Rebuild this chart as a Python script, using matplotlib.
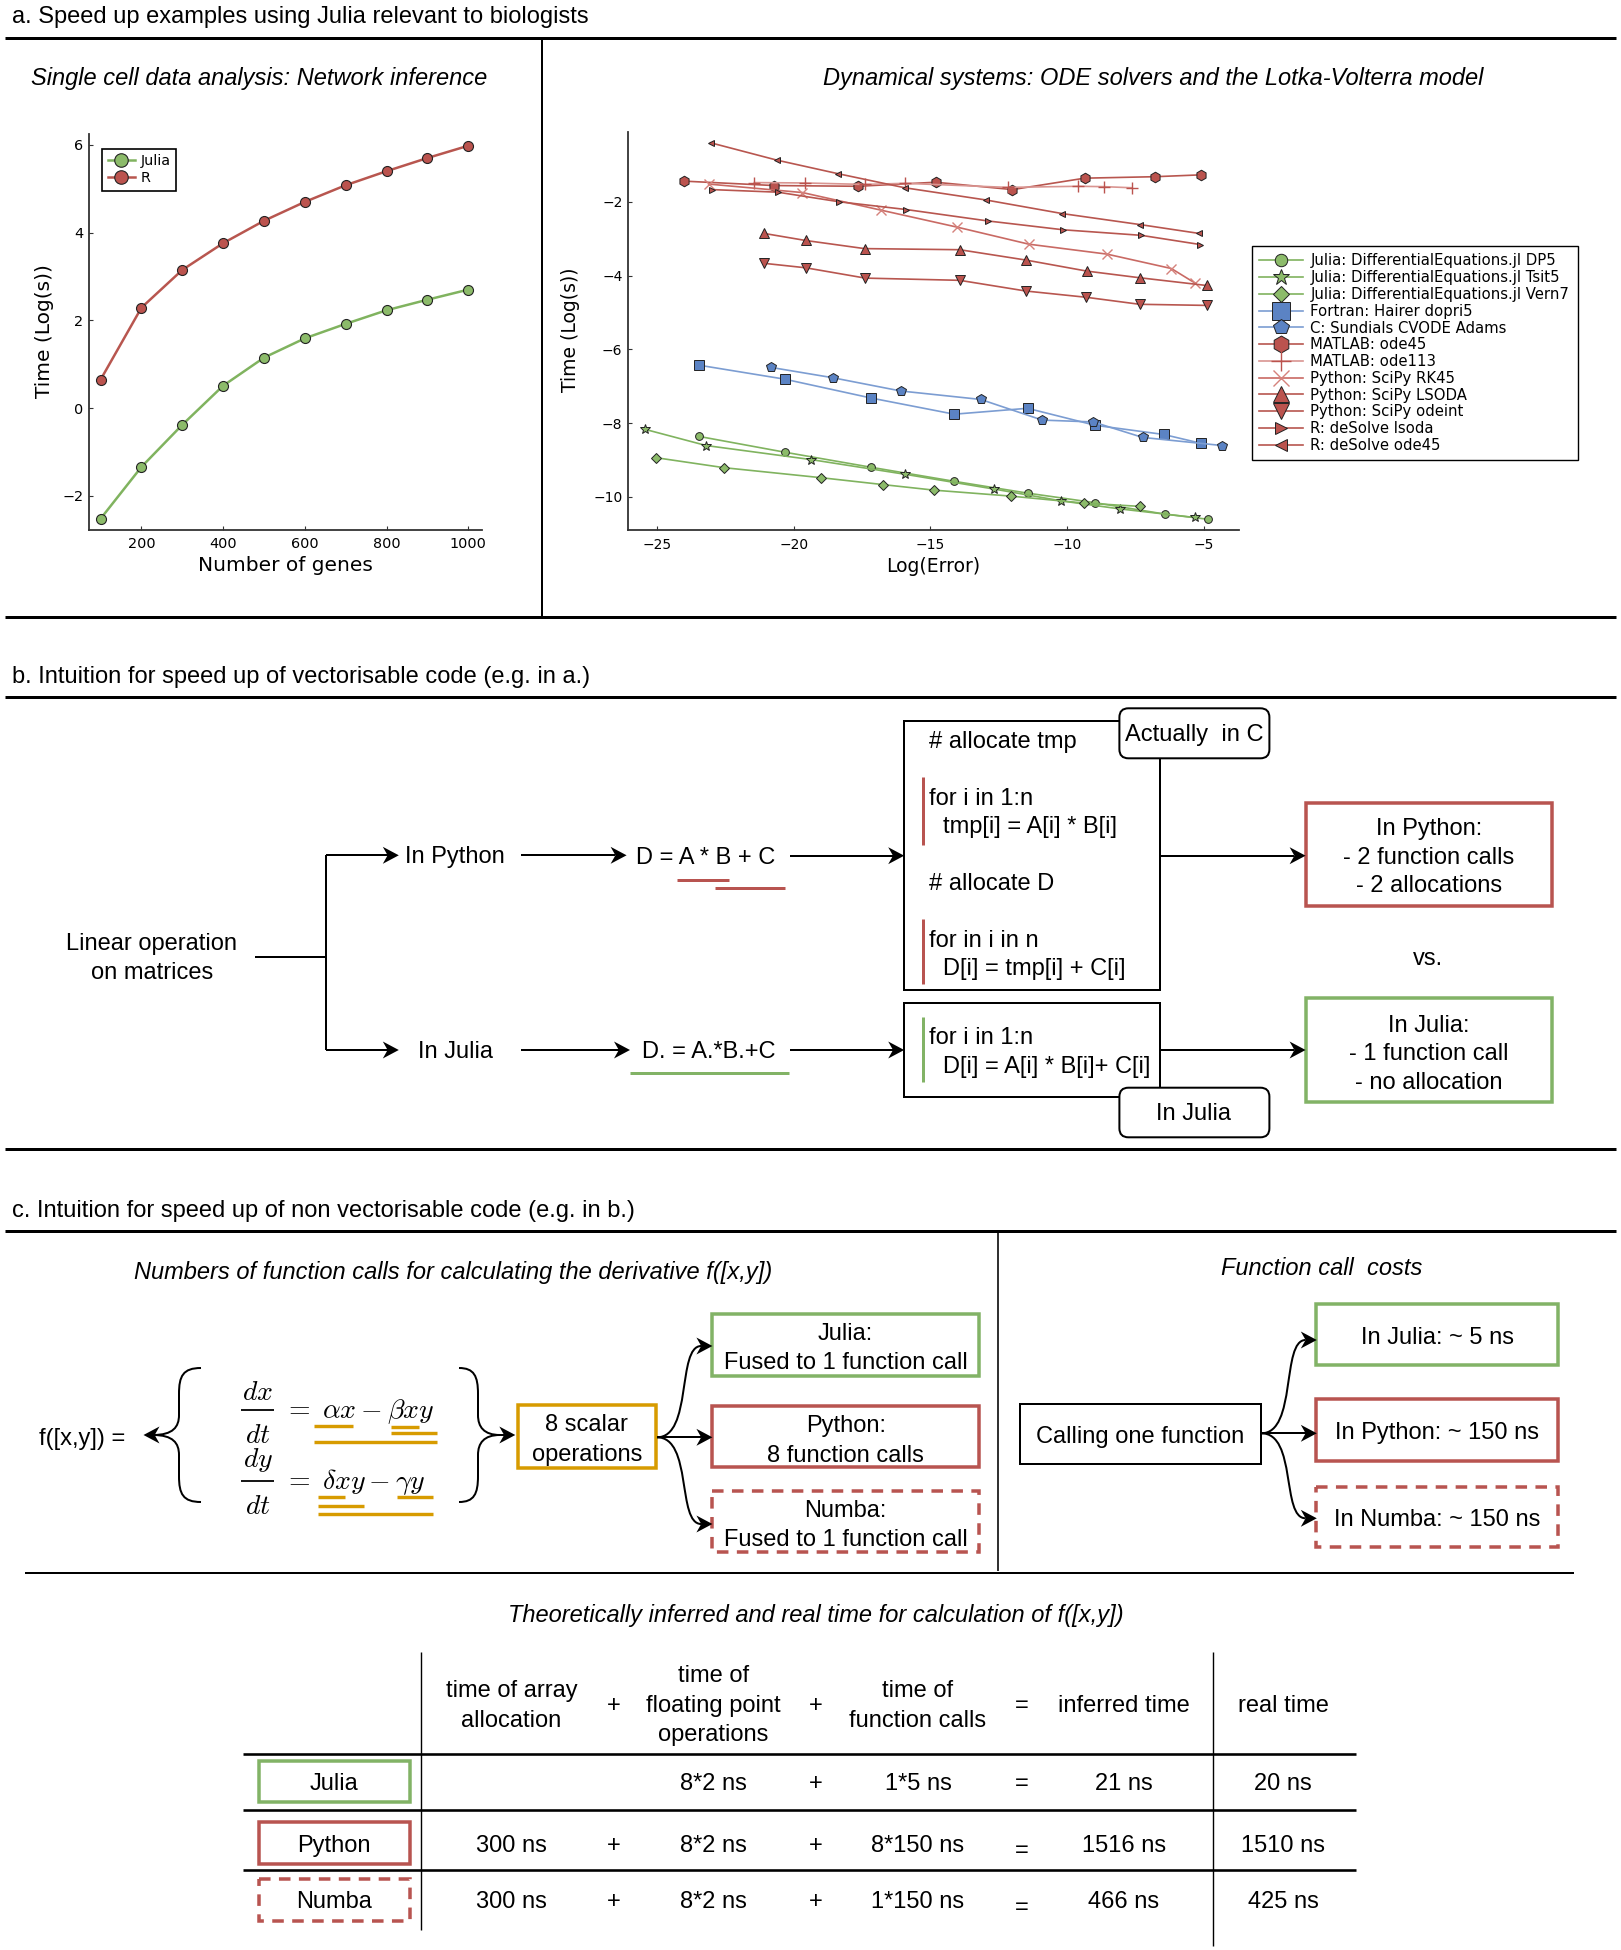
#!/usr/bin/env python3

import matplotlib.pyplot as plt
from matplotlib.patches import Rectangle, FancyBboxPatch, PathPatch
from matplotlib.path import Path

plt.rcParams['mathtext.fontset'] = 'cm'

# ---------------- data ----------------
genes = [100, 200, 300, 400, 500, 600, 700, 800, 900, 1000]
time_julia = [-2.52, -1.34, -0.38, 0.51, 1.15, 1.59, 1.92, 2.23, 2.47, 2.70]
time_r = [0.65, 2.29, 3.15, 3.76, 4.27, 4.70, 5.08, 5.40, 5.70, 5.98]

solver_labels = ['Julia: DifferentialEquations.jl DP5',
                 'Julia: DifferentialEquations.jl Tsit5',
                 'Julia: DifferentialEquations.jl Vern7',
                 'Fortran: Hairer dopri5',
                 'C: Sundials CVODE Adams',
                 'MATLAB: ode45',
                 'MATLAB: ode113',
                 'Python: SciPy RK45',
                 'Python: SciPy LSODA',
                 'Python: SciPy odeint',
                 'R: deSolve lsoda',
                 'R: deSolve ode45']

err_dp5 = [-23.48, -20.33, -17.16, -14.13, -11.45, -8.98, -6.42, -4.84]
time_dp5 = [-8.36, -8.79, -9.20, -9.58, -9.90, -10.16, -10.47, -10.61]
err_tsit5 = [-25.44, -23.20, -19.37, -15.92, -12.67, -10.22, -8.05, -5.34]
time_tsit5 = [-8.17, -8.61, -8.99, -9.39, -9.79, -10.11, -10.33, -10.56]
err_vern7 = [-25.03, -22.55, -19.02, -16.72, -14.86, -12.07, -9.39, -7.32]
time_vern7 = [-8.94, -9.21, -9.48, -9.67, -9.82, -9.98, -10.17, -10.26]
err_dopri5 = [-23.47, -20.33, -17.18, -14.13, -11.45, -8.98, -6.47, -5.10]
time_dopri5 = [-6.43, -6.81, -7.32, -7.76, -7.60, -8.06, -8.31, -8.55]
err_cvode = [-20.84, -18.58, -16.09, -13.16, -10.91, -9.05, -7.24, -4.33]
time_cvode = [-6.49, -6.77, -7.13, -7.36, -7.92, -7.97, -8.39, -8.61]
err_m45 = [-24.02, -20.72, -17.64, -14.81, -12.00, -9.36, -6.78, -5.11]
time_m45 = [-1.44, -1.56, -1.58, -1.47, -1.67, -1.36, -1.32, -1.27]
err_m113 = [-21.44, -19.58, -17.41, -15.92, -12.17, -9.60, -8.67, -7.63]
time_m113 = [-1.48, -1.49, -1.53, -1.50, -1.61, -1.58, -1.59, -1.62]
err_rk45 = [-23.11, -19.68, -16.79, -14.01, -11.40, -8.54, -6.19, -5.31]
time_rk45 = [-1.52, -1.75, -2.23, -2.69, -3.15, -3.42, -3.81, -4.21]
err_lsoda = [-21.07, -19.56, -17.41, -13.93, -11.51, -9.28, -7.35, -4.90]
time_lsoda = [-2.86, -3.05, -3.27, -3.30, -3.58, -3.88, -4.06, -4.27]
err_odeint = [-21.07, -19.56, -17.38, -13.93, -11.51, -9.30, -7.35, -4.90]
time_odeint = [-3.67, -3.79, -4.07, -4.13, -4.42, -4.59, -4.78, -4.81]
err_rlsoda = [-22.99, -20.58, -18.34, -15.89, -12.90, -10.14, -7.29, -5.13]
time_rlsoda = [-1.67, -1.74, -2.00, -2.21, -2.52, -2.76, -2.91, -3.16]
err_rode45 = [-23.04, -20.62, -18.37, -15.94, -12.98, -10.18, -7.32, -5.16]
time_rode45 = [-0.40, -0.87, -1.24, -1.62, -1.95, -2.32, -2.62, -2.86]

solver_err = [err_dp5, err_tsit5, err_vern7, err_dopri5, err_cvode, err_m45,
              err_m113, err_rk45, err_lsoda, err_odeint, err_rlsoda, err_rode45]
solver_time = [time_dp5, time_tsit5, time_vern7, time_dopri5, time_cvode, time_m45,
               time_m113, time_rk45, time_lsoda, time_odeint, time_rlsoda, time_rode45]

table_header = ['time of array\nallocation', '+', 'time of\nfloating point\noperations',
                '+', 'time of\nfunction calls', '=', 'inferred time', 'real time']
table_rows = ['Julia', 'Python', 'Numba']
table_cells = [['', '', '8*2 ns', '+', '1*5 ns', '=', '21 ns', '20 ns'],
               ['300 ns', '+', '8*2 ns', '+', '8*150 ns', '=', '1516 ns', '1510 ns'],
               ['300 ns', '+', '8*2 ns', '+', '1*150 ns', '=', '466 ns', '425 ns']]

# ---------------- styles ----------------
GREEN, GREEN_L = '#8cbb6a', '#80b35f'
RED, RED_L = '#bb534e', '#b8564f'
BLUE, BLUE_L = '#5b83c4', '#7c9dd2'
G_BOX, R_BOX, O_BOX = '#82b366', '#b85450', '#d79b00'

W, H = 1621, 1950
fig = plt.figure(figsize=(W / 100, H / 100), dpi=100)

# overlay in pixel coordinates for the diagram parts
ov = fig.add_axes([0, 0, 1, 1])
ov.set_xlim(0, W)
ov.set_ylim(H, 0)
ov.axis('off')

FONT = 'Liberation Sans'


def px(v):
    return v * 0.72


def T(x, y, s, size=17, ha='center', pitch=29.5, style='normal', color='black'):
    lines = s.split('\n')
    n = len(lines)
    for i, line in enumerate(lines):
        ov.text(x, y + (i - (n - 1) / 2) * pitch, line, fontsize=size, ha=ha,
                va='center_baseline', style=style, family=FONT, color=color, zorder=6)


def seg(xs, ys, lw=2, color='black', z=2):
    ov.plot(xs, ys, color=color, lw=px(lw), solid_capstyle='butt', zorder=z)


def rect(x0, y0, x1, y1, ec, lw=3, dashed=False, fc='none', z=2):
    ls = (0, (3.3, 2.4)) if dashed else '-'
    ov.add_patch(Rectangle((x0, y0), x1 - x0, y1 - y0, fc=fc, ec=ec,
                           lw=px(lw), ls=ls, zorder=z))


def rbox(x0, y0, x1, y1):
    ov.add_patch(FancyBboxPatch((x0, y0), x1 - x0, y1 - y0,
                                boxstyle='round,pad=0,rounding_size=9',
                                fc='white', ec='black', lw=px(2), zorder=4))


HL, HW = 16, 8.5   # arrow head length / half width in px


def head(x, y, d):
    # notched "classic" head pointing right (d=1) or left (d=-1)
    xs = [x, x - d * HL, x - d * HL * 0.7, x - d * HL]
    ys = [y, y - HW, y, y + HW]
    ov.fill(xs, ys, color='black', lw=0, zorder=5)


def arrow(x0, y0, x1, y1):
    d = 1 if x1 > x0 else -1
    seg([x0, x1 - d * HL * 0.7], [y0, y1], z=3)
    head(x1, y1, d)


def curve_arrow(x0, y0, x1, y1):
    xm = x0 + (x1 - x0) * 0.5
    xe = x1 - HL * 0.7
    p = Path([(x0, y0), (xm + 8, y0), (xm - 8, y1), (xe, y1)],
             [Path.MOVETO, Path.CURVE4, Path.CURVE4, Path.CURVE4])
    ov.add_patch(PathPatch(p, fc='none', ec='black', lw=px(2), zorder=3))
    head(x1, y1, 1)


def brace(xt, xb, xp, yt, yb):
    # xt: tips, xb: body, xp: point
    ym = (yt + yb) / 2
    s = 1 if xp > xt else -1
    verts = [(xt, yt), (xb - s * 4, yt), (xb, yt + 8), (xb, yt + 26),
             (xb, ym - 20),
             (xb, ym - 8), (xb + s * 6, ym), (xp, ym),
             (xb + s * 6, ym), (xb, ym + 8), (xb, ym + 20),
             (xb, yb - 26),
             (xb, yb - 8), (xb - s * 4, yb), (xt, yb)]
    codes = [Path.MOVETO, Path.CURVE4, Path.CURVE4, Path.CURVE4,
             Path.LINETO,
             Path.CURVE4, Path.CURVE4, Path.CURVE4,
             Path.CURVE4, Path.CURVE4, Path.CURVE4,
             Path.LINETO,
             Path.CURVE4, Path.CURVE4, Path.CURVE4]
    ov.add_patch(PathPatch(Path(verts, codes), fc='none', ec='black', lw=px(2)))


def fax(l, t, r, b):
    return fig.add_axes([l / W, 1 - b / H, (r - l) / W, (b - t) / H])


# ---------------- section frames ----------------
seg([5, 1616], [38, 38], lw=3)
seg([542, 542], [38, 617], lw=2)
seg([5, 1616], [617, 617], lw=3)
T(12, 14, 'a. Speed up examples using Julia relevant to biologists', ha='left')
T(259, 76, 'Single cell data analysis: Network inference', style='italic')
T(1153, 76, 'Dynamical systems: ODE solvers and the Lotka-Volterra model', style='italic')

T(12, 675, 'b. Intuition for speed up of vectorisable code (e.g. in a.)', ha='left')
seg([5, 1616], [697, 697], lw=3)
seg([5, 1616], [1149, 1149], lw=3)

T(12, 1209, 'c. Intuition for speed up of non vectorisable code (e.g. in b.)', ha='left')
seg([5, 1616], [1231, 1231], lw=3)
seg([998, 998], [1231, 1571], lw=1.6)
seg([25, 1574], [1573, 1573], lw=2)

# ---------------- panel a: left plot ----------------
ax1 = fax(88.8, 133.9, 482.1, 529.6)
ax1.plot(genes, time_julia, '-o', color=GREEN_L, mfc=GREEN, mec='#222222', mew=0.8,
         ms=7.2, lw=1.8, label='Julia')
ax1.plot(genes, time_r, '-o', color=RED_L, mfc=RED, mec='#222222', mew=0.8,
         ms=7.2, lw=1.8, label='R')
ax1.set_xlim(71, 1034)
ax1.set_ylim(-2.77, 6.25)
ax1.set_xticks([200, 400, 600, 800, 1000])
ax1.set_yticks([-2, 0, 2, 4, 6])
ax1.tick_params(direction='in', length=3, labelsize=10.4, color='#333333')
ax1.tick_params(axis='x', pad=5)
ax1.tick_params(axis='y', pad=4)
ax1.set_xlabel('Number of genes', fontsize=14.5)
ax1.set_ylabel('Time (Log(s))', fontsize=14.5)
ax1.xaxis.set_label_coords(0.499, -0.0895)
ax1.xaxis.label.set_va('center')
ax1.yaxis.set_label_coords(-0.112, 0.502)
ax1.yaxis.label.set_va('center')
leg1 = ax1.legend(loc='upper left', bbox_to_anchor=(101.9 / W, 1 - 148.6 / H),
                  bbox_transform=fig.transFigure, borderaxespad=0, fancybox=False,
                  edgecolor='black', framealpha=1, fontsize=10.3, handlelength=1.9,
                  handletextpad=0.4, labelspacing=0.2, borderpad=0.4, markerscale=1.35)
leg1.get_frame().set_linewidth(1.2)

# ---------------- panel a: right plot ----------------
ax2 = fax(628, 131.7, 1238.6, 530)
markers = ['o', '*', 'D', 's', 'p', 'h', '+', 'x', '^', 'v', '>', '<']
msizes = [5.6, 7.5, 5.2, 7.8, 7.2, 7.6, 9, 7, 7.2, 7.2, 5, 5]
fills = [GREEN, GREEN, GREEN, BLUE, BLUE, RED, RED, '#d5827c', RED, RED, RED, RED]
lines = [GREEN_L, GREEN_L, GREEN_L, BLUE_L, BLUE_L, RED_L, '#d99591', '#c96a64',
         RED_L, RED_L, RED_L, RED_L]
for k in range(len(solver_labels)):
    thin = markers[k] in ('+', 'x')
    ax2.plot(solver_err[k], solver_time[k], '-', marker=markers[k], color=lines[k],
             mfc=fills[k], mec=fills[k] if thin else '#222222',
             mew=1.0 if thin else 0.7, ms=msizes[k], lw=1.2,
             label=solver_labels[k])
ax2.set_xlim(-26.06, -3.73)
ax2.set_ylim(-10.9, -0.1)
ax2.set_xticks([-25, -20, -15, -10, -5])
ax2.set_yticks([-10, -8, -6, -4, -2])
ax2.tick_params(direction='in', length=3, labelsize=10, color='#333333')
ax2.tick_params(axis='x', pad=6)
ax2.tick_params(axis='y', pad=4)
ax2.set_xlabel('Log(Error)', fontsize=13.5)
ax2.set_ylabel('Time (Log(s))', fontsize=13.5)
ax2.xaxis.set_label_coords(0.4995, -0.092)
ax2.xaxis.label.set_va('center')
ax2.yaxis.set_label_coords(-0.0934, 0.502)
ax2.yaxis.label.set_va('center')
leg2 = ax2.legend(loc='upper left',
                  bbox_to_anchor=(1251.7 / W, 1 - 453.3 / H, 326.6 / W, 207.3 / H),
                  mode='expand', bbox_transform=fig.transFigure, borderaxespad=0,
                  fancybox=False, edgecolor='black', framealpha=1, fontsize=10.7,
                  handlelength=2.95, handletextpad=0.5, labelspacing=0.12,
                  borderpad=0.5, markerscale=1.6)
leg2.get_frame().set_linewidth(1.0)

for a in (ax1, ax2):
    for side in ('top', 'right'):
        a.spines[side].set_visible(False)
    for side in ('left', 'bottom'):
        a.spines[side].set_linewidth(1.3)
        a.spines[side].set_color('#333333')

# ---------------- panel b ----------------
T(152, 956, 'Linear operation\non matrices', pitch=29)
seg([254.6, 326.4], [956.7, 956.7])
seg([326.4, 326.4], [855.3, 1050])
arrow(326.4, 855.3, 398.8, 855.3)
arrow(326.4, 1050, 398.8, 1050)
T(455, 855, 'In Python')
T(455, 1050, 'In Julia')
arrow(520.7, 855.3, 626.6, 855.3)
arrow(520.7, 1050, 630, 1050)
T(706, 855, 'D = A * B + C')
T(709, 1050, 'D. = A.*B.+C')
seg([676.7, 729.3], [880.3, 880.3], lw=3, color=R_BOX)
seg([715.4, 785.1], [888, 888], lw=3, color=R_BOX)
seg([630, 788.7], [1072.7, 1072.7], lw=3, color=G_BOX)
arrow(790, 855.7, 904.2, 855.7)
arrow(790, 1050, 904.2, 1050)

# python code box
rect(904.2, 721.3, 1159.7, 990, 'black', lw=2)
rbox(1119.4, 708.3, 1269.4, 758.3)
T(1194, 733, 'Actually  in C')
T(929, 739.3, '# allocate tmp', ha='left')
T(929, 796.7, 'for i in 1:n', ha='left')
T(943, 825, 'tmp[i] = A[i] * B[i]', ha='left')
T(929, 881.7, '# allocate D', ha='left')
T(929, 938.3, 'for in i in n', ha='left')
T(943, 966.7, 'D[i] = tmp[i] + C[i]', ha='left')
seg([923.3, 923.3], [776.7, 845], lw=3, color=R_BOX)
seg([923.3, 923.3], [919.3, 984], lw=3, color=R_BOX)

# julia code box
rect(904.2, 1003.3, 1159.7, 1096.7, 'black', lw=2)
rbox(1119.4, 1087.7, 1269.4, 1137.3)
T(1194, 1112, 'In Julia')
T(929, 1035, 'for i in 1:n', ha='left')
T(943, 1064.3, 'D[i] = A[i] * B[i]+ C[i]', ha='left')
seg([923.3, 923.3], [1017, 1081.7], lw=3, color=G_BOX)

arrow(1159.7, 855.7, 1305.6, 855.7)
arrow(1159.7, 1050, 1305.6, 1050)
rect(1305.6, 802.7, 1552.4, 906, R_BOX, lw=3.5)
T(1429, 855, 'In Python:\n- 2 function calls\n- 2 allocations', pitch=28.7)
T(1428, 956.7, 'vs.')
rect(1305.6, 998.3, 1552.4, 1101.7, G_BOX, lw=3.5)
T(1429, 1052, 'In Julia:\n- 1 function call\n- no allocation', pitch=28.7)

# ---------------- panel c, left ----------------
T(453.5, 1270, 'Numbers of function calls for calculating the derivative f([x,y])',
  style='italic')
T(82.5, 1437, 'f([x,y]) =')
brace(201, 179, 153, 1368, 1502)
arrow(158, 1435, 143.5, 1435)
brace(459, 478, 500, 1368, 1502)
arrow(497, 1435, 515.3, 1435)

MS = 20
ov.text(258, 1389, r'$dx$', fontsize=MS, ha='center', va='center_baseline')
seg([241, 274], [1410, 1410], lw=1.8)
ov.text(258, 1432, r'$dt$', fontsize=MS, ha='center', va='center_baseline')
ov.text(284, 1418, r'$=\;\alpha x-\beta xy$', fontsize=MS, ha='left', va='baseline')
ov.text(258, 1457, r'$dy$', fontsize=MS, ha='center', va='center_baseline')
seg([241, 274], [1481, 1481], lw=1.8)
ov.text(258, 1503, r'$dt$', fontsize=MS, ha='center', va='center_baseline')
ov.text(284, 1489, r'$=\;\delta xy-\gamma y$', fontsize=MS, ha='left', va='baseline')

for (x0, x1, y) in [(313.8, 352.7, 1426), (391, 419, 1426.7), (391, 437, 1433.3),
                    (313.8, 437, 1441.7), (317.6, 345, 1497.3), (396.7, 433, 1497.3),
                    (317.6, 363.5, 1505.7), (317.6, 433, 1513.7)]:
    seg([x0, x1], [y, y], lw=3.4, color=O_BOX)

rect(517.9, 1405, 655.6, 1467.7, O_BOX, lw=3.5)
T(586.7, 1437.7, '8 scalar\noperations', pitch=30)
curve_arrow(657, 1437.3, 712.4, 1346)
arrow(657, 1437.3, 712.4, 1437.3)
curve_arrow(657, 1437.3, 712.4, 1524)
rect(712.4, 1314, 979, 1375.7, G_BOX, lw=3.5)
T(845.7, 1346, 'Julia:\nFused to 1 function call', pitch=29)
rect(712.4, 1405.7, 979, 1467.3, R_BOX, lw=3.5)
T(845.7, 1438.3, 'Python:\n8 function calls', pitch=30)
rect(712.4, 1490.7, 979, 1552.3, R_BOX, lw=3.5, dashed=True)
T(845.7, 1522.8, 'Numba:\nFused to 1 function call', pitch=29)

# ---------------- panel c, right ----------------
T(1321.6, 1266, 'Function call  costs', style='italic')
rect(1019.8, 1404.3, 1260.6, 1464.3, 'black', lw=2)
T(1140.2, 1434.3, 'Calling one function')
curve_arrow(1261.4, 1433.3, 1316.8, 1340)
arrow(1261.4, 1433.3, 1316.8, 1433.3)
curve_arrow(1261.4, 1433.3, 1316.8, 1518.3)
rect(1316, 1304, 1558.4, 1365, G_BOX, lw=3.5)
T(1437.2, 1335, 'In Julia: ~ 5 ns')
rect(1316, 1399.3, 1558.4, 1460.7, R_BOX, lw=3.5)
T(1437.2, 1430, 'In Python: ~ 150 ns')
rect(1316, 1486.7, 1558.4, 1547.3, R_BOX, lw=3.5, dashed=True)
T(1437.2, 1517.3, 'In Numba: ~ 150 ns')

# ---------------- table ----------------
T(815.5, 1613.3, 'Theoretically inferred and real time for calculation of f([x,y])',
  style='italic')
col_x = [511.5, 613.3, 713.6, 816.2, 918, 1021.3, 1124, 1283]
row_y = [1781.7, 1843.3, 1900]
seg([421.3, 421.3], [1651.7, 1930], lw=1.4)
seg([1213.3, 1213.3], [1651.7, 1946], lw=1.4)
for y in (1754, 1810, 1870):
    seg([243, 1356], [y, y], lw=2.6)
for j, h in enumerate(table_header):
    T(col_x[j], 1703.5, h, pitch=29.5)
box_colors = [G_BOX, R_BOX, R_BOX]
for i, name in enumerate(table_rows):
    y = row_y[i]
    rect(259, y - 21, 409.6, y + 20.5, box_colors[i], lw=3.5, dashed=(name == 'Numba'))
    T(334.3, y, name)
    for j, c in enumerate(table_cells[i]):
        if c:
            dy = 5 if (c == '=' and i > 0) else 0
            T(col_x[j], y + dy, c)

fig.savefig('out.png', dpi=100)
